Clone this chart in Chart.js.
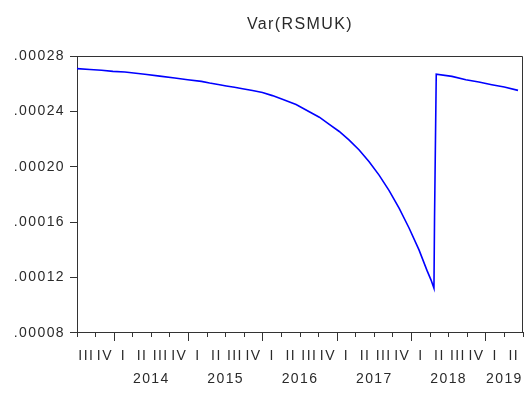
<!DOCTYPE html>
<html>
<head>
<meta charset="utf-8">
<script src="https://cdn.jsdelivr.net/npm/chart.js@4"></script>
<style>
  html, body { margin: 0; padding: 0; background: #fff; }
  #wrap { width: 532px; height: 394px; }
</style>
</head>
<body>
<div id="wrap"><canvas id="varChart" width="532" height="394"></canvas></div>
<script>
// conditional variance of RSMUK, x in decimal years
var dates = [
  2013.500, 2013.674, 2013.831, 2013.983, 2014.144, 2014.412, 2014.613, 2014.815,
  2014.989, 2015.173, 2015.284, 2015.418, 2015.508, 2015.619, 2015.727, 2015.861,
  2015.995, 2016.129, 2016.263, 2016.447, 2016.625, 2016.760, 2016.894, 2017.028,
  2017.162, 2017.296, 2017.430, 2017.564, 2017.699, 2017.833, 2017.967, 2018.101,
  2018.208, 2018.262, 2018.302, 2018.310, 2018.333, 2018.544, 2018.731, 2018.906,
  2019.080, 2019.248, 2019.433
];
var variance = [
  0.0002709, 0.0002702, 0.0002697, 0.0002689, 0.0002684, 0.0002668, 0.0002655, 0.0002641,
  0.0002629, 0.0002617, 0.0002605, 0.0002593, 0.0002584, 0.0002574, 0.0002564, 0.0002551,
  0.0002536, 0.0002514, 0.0002488, 0.0002450, 0.0002398, 0.0002358, 0.0002306, 0.0002255,
  0.0002193, 0.0002121, 0.0002037, 0.0001940, 0.0001828, 0.0001701, 0.0001558, 0.0001400,
  0.0001252, 0.0001184, 0.0001124, 0.0001635, 0.0002668, 0.0002653, 0.0002629, 0.0002612,
  0.0002593, 0.0002576, 0.0002552
];

var quarterNames = ['I', 'II', 'III', 'IV'];
var yearLabels = ['2014', '2015', '2016', '2017', '2018', '2019'];
var yearLabelAt = [2014.5, 2015.5, 2016.5, 2017.5, 2018.5, 2019.25];
var yTicks = [0.00008, 0.00012, 0.00016, 0.00020, 0.00024, 0.00028];
var xMin = 2013.5, xMax = 2019.5;

var axisColor = '#333333';
var textColor = '#2a2a2a';

function isBoundary(v) {
  return Math.abs(v * 4 - Math.round(v * 4)) < 1e-6;
}

// wider letter spacing for all text
var spacing = {
  id: 'spacing',
  beforeUpdate: function (chart) { chart.ctx.letterSpacing = '1.4px'; },
  beforeDraw: function (chart) { chart.ctx.letterSpacing = '1.4px'; }
};

// closes the box on top and right
var frame = {
  id: 'frame',
  afterDraw: function (chart) {
    var a = chart.chartArea, c = chart.ctx;
    var l = Math.round(a.left) + 0.5, r = Math.round(a.right) - 0.5, t = Math.round(a.top) + 0.5;
    c.save();
    c.strokeStyle = axisColor;
    c.lineWidth = 1;
    c.beginPath();
    c.moveTo(l, t);
    c.lineTo(r, t);
    c.lineTo(r, Math.round(a.bottom));
    c.stroke();
    c.restore();
  }
};

var points = dates.map(function (d, i) { return { x: d, y: variance[i] }; });

new Chart(document.getElementById('varChart'), {
  type: 'line',
  data: {
    datasets: [{
      data: points,
      borderColor: '#0000ff',
      borderWidth: 1.6,
      pointRadius: 0,
      tension: 0,
      fill: false
    }]
  },
  options: {
    responsive: false,
    animation: false,
    events: [],
    layout: { padding: { left: 13, right: 9, top: 0, bottom: 0 } },
    plugins: {
      legend: { display: false },
      tooltip: { enabled: false },
      title: {
        display: true,
        text: 'Var(RSMUK)',
        fullSize: false,
        color: textColor,
        font: { family: 'Liberation Sans', size: 16, weight: 'normal' },
        padding: { top: 15, bottom: 21.8 }
      }
    },
    scales: {
      x: {
        type: 'linear',
        min: xMin,
        max: xMax,
        afterBuildTicks: function (scale) {
          var t = [];
          for (var i = 0; i <= 48; i++) t.push({ value: xMin + i * 0.125 });
          scale.ticks = t;
        },
        ticks: {
          autoSkip: false,
          maxRotation: 0,
          minRotation: 0,
          padding: 3.5,
          color: textColor,
          font: { family: 'Liberation Sans', size: 14, lineHeight: 1.643 },
          callback: function (v) {
            if (isBoundary(v)) {
              var k = yearLabelAt.indexOf(v);
              return k >= 0 ? ['', yearLabels[k]] : '';
            }
            var q = Math.floor((v - Math.floor(v)) * 4);
            return quarterNames[q];
          }
        },
        grid: {
          drawOnChartArea: false,
          tickLength: 8,
          tickWidth: 1,
          tickColor: function (ctx) {
            return isBoundary(ctx.tick.value) ? axisColor : 'rgba(0,0,0,0)';
          },
          tickBorderDash: function (ctx) {
            return Number.isInteger(ctx.tick.value) ? [] : [4, 20];
          }
        },
        border: { color: axisColor, width: 1 }
      },
      y: {
        min: 0.00008,
        max: 0.00028,
        afterBuildTicks: function (scale) {
          scale.ticks = yTicks.map(function (v) { return { value: v }; });
        },
        afterFit: function (scale) { scale.width = 64; },
        ticks: {
          padding: 5,
          color: textColor,
          font: { family: 'Liberation Sans', size: 14 },
          callback: function (v) { return v.toFixed(5).replace(/^0/, ''); }
        },
        grid: { drawOnChartArea: false, tickLength: 7, tickColor: axisColor },
        border: { color: axisColor, width: 1 }
      }
    }
  },
  plugins: [spacing, frame]
});
</script>
</body>
</html>
